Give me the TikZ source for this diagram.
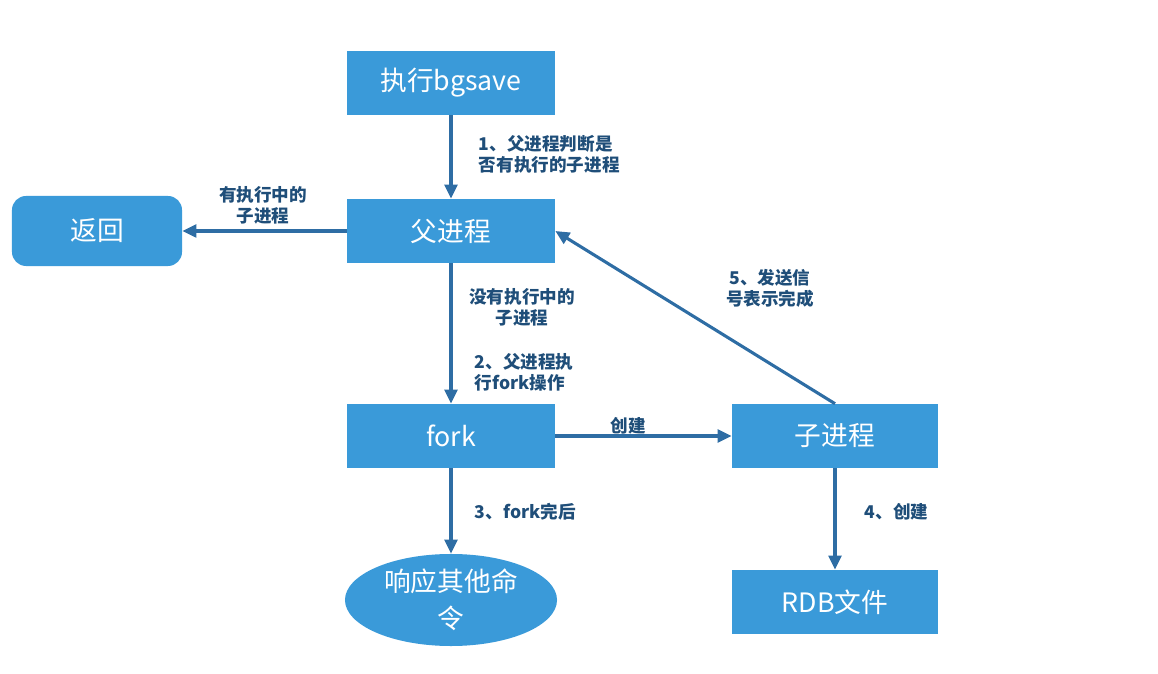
\documentclass[tikz,border=0pt]{standalone}
\usepackage{fontspec}
\setmainfont{Noto Sans CJK SC}
\usetikzlibrary{shapes.geometric, arrows.meta, positioning}
\definecolor{boxblue}{HTML}{3A9AD9}
\definecolor{arrowblue}{HTML}{2E6DA4}
\definecolor{labelblue}{HTML}{1F4E79}
\tikzset{
  box/.style={rectangle, fill=boxblue, text=white, minimum width=5.2cm, minimum height=1.6cm, font=\fontsize{19}{22}\selectfont},
  lbl/.style={text=labelblue, font=\fontsize{12.5}{15}\selectfont\bfseries, align=left},
  flow/.style={-{Triangle[length=10pt,width=9pt]}, arrowblue, line width=2.2pt}
}
\begin{document}
\begin{tikzpicture}[x=0.025cm, y=-0.025cm]
    \useasboundingbox (0,0) rectangle (1158,674);
    \node [box] (bgsave) at (451,83) {执行bgsave};
    \node [box] (parent) at (451,231) {父进程};
    \node [box, minimum width=4.25cm, minimum height=1.75cm, rounded corners=10pt] (ret) at (97,231) {返回};
    \node [box] (fork) at (451,436) {fork};
    \node [box, minimum width=5.15cm] (child) at (835,436) {子进程};
    \node [ellipse, fill=boxblue, text=white, minimum width=5.3cm, minimum height=2.3cm, align=center, inner sep=0pt, font=\fontsize{19}{26}\selectfont] (reply) at (451,600) {响应其他命\\令};
    \node [box, minimum width=5.15cm] (rdb) at (835,602) {RDB文件};
    % connectors
    \draw [flow] (bgsave) -- (parent);
    \draw [flow] (parent) -- (ret);
    \draw [flow] (parent) -- (fork);
    \draw [flow] (fork) -- (child);
    \draw [flow] (fork) -- (reply);
    \draw [flow] (child) -- (rdb);
    \draw [flow] (child.north) -- (parent.east);
    % labels
    \node [lbl, anchor=west] (l1) at (474,154) {1、父进程判断是\\否有执行的子进程};
    \node [lbl, align=center] (l2) at (263,205) {有执行中的\\子进程};
    \node [lbl, align=center] (l3) at (522,307) {没有执行中的\\子进程};
    \node [lbl, anchor=west] (l4) at (470,372) {2、父进程执\\行fork操作};
    \node [lbl] (l5) at (628,426) {创建};
    \node [lbl, anchor=west] (l6) at (470,512) {3、fork完后};
    \node [lbl, anchor=west] (l7) at (860,512) {4、创建};
    \node [lbl, align=center] (l8) at (770,288) {5、发送信\\号表示完成};
\end{tikzpicture}
\end{document}
